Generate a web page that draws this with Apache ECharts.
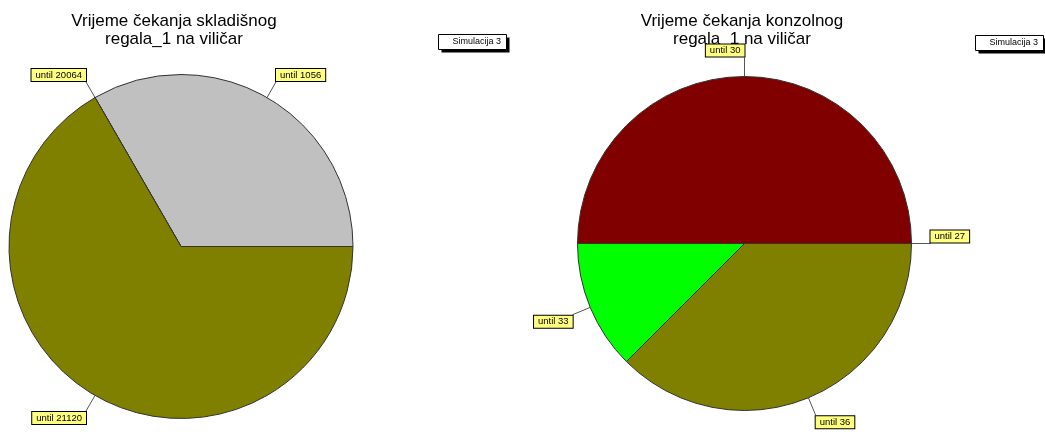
<!DOCTYPE html>
<html>
<head>
<meta charset="utf-8">
<script src="https://cdn.jsdelivr.net/npm/echarts@6/dist/echarts.min.js"></script>
<style>
  html, body { margin: 0; padding: 0; background: #fff; }
  #chart { width: 1045px; height: 432px; }
</style>
</head>
<body>
<div id="chart"></div>
<script>
// Waiting-time classes for the storage rack (left) and the cantilever rack (right)
const storageNames = ['until 1056', 'until 20064', 'until 21120'];
const storageValues = [1, 0, 2];
const storageColors = ['#c0c0c0', '#808000', '#808000'];

const cantileverNames = ['until 27', 'until 30', 'until 33', 'until 36'];
const cantileverValues = [0, 4, 1, 3];
const cantileverColors = ['#808000', '#800000', '#00ff00', '#808000'];

const titles = ['Vrijeme čekanja skladišnog\nregala_1 na viličar', 'Vrijeme čekanja konzolnog\nregala_1 na viličar'];
const legendText = 'Simulacija 3';

const FONT = '"Liberation Sans", Arial, sans-serif';

function buildData(names, values, colors) {
  return names.map((n, i) => ({ name: n, value: values[i], itemStyle: { color: colors[i] } }));
}

// Put the label box's corner on the end of its leader line
function cornerLayout(params) {
  const pts = params.labelLinePoints;
  if (!pts || pts.length < 2) return {};
  const a = pts[0], b = pts[pts.length - 1];
  const dx = b[0] - a[0];
  const dy = b[1] - a[1];
  const h = params.labelRect.height;
  return {
    align: dx > 0.5 ? 'left' : 'right',
    dy: dy <= 0.01 ? -h / 2 : h / 2
  };
}

function pieSeries(name, names, values, colors, center, radius, lineLen) {
  return {
    type: 'pie',
    name: name,
    z: 3,
    center: center,
    radius: radius,
    startAngle: 0,
    clockwise: false,
    avoidLabelOverlap: false,
    animation: false,
    silent: true,
    itemStyle: { borderColor: '#333', borderWidth: 1 },
    label: {
      show: true,
      position: 'outside',
      formatter: '{b}',
      fontFamily: FONT,
      fontSize: 9.5,
      color: '#000',
      backgroundColor: '#ffff80',
      borderColor: '#000',
      borderWidth: 1,
      padding: [1, 4, 1, 4],
      distanceToLabelLine: 0
    },
    labelLine: {
      show: true,
      length: lineLen,
      length2: 0,
      lineStyle: { color: '#555', width: 1 }
    },
    labelLayout: cornerLayout,
    data: buildData(names, values, colors)
  };
}

// Small framed legend tag with a hard drop shadow
function legendTag(x, y) {
  return {
    type: 'group',
    left: x,
    top: y,
    children: [
      { type: 'rect', shape: { x: 3, y: 3, width: 68, height: 15 }, style: { fill: '#000' } },
      { type: 'rect', shape: { x: 0, y: 0, width: 68, height: 15 }, style: { fill: '#fff', stroke: '#000', lineWidth: 1 } },
      { type: 'text', x: 14, y: 3, style: { text: legendText, font: '9px ' + FONT, fill: '#000' } }
    ]
  };
}

const chart = echarts.init(document.getElementById('chart'), null, { renderer: 'canvas' });

const titleStyle = { fontFamily: FONT, fontSize: 17, fontWeight: 'normal', color: '#000', lineHeight: 18 };

chart.setOption({
  backgroundColor: '#fff',
  title: [
    { text: titles[0], left: 169, top: 7, textAlign: 'center', z: 1, textStyle: titleStyle },
    { text: titles[1], left: 737, top: 7, textAlign: 'center', z: 1, textStyle: titleStyle }
  ],
  graphic: [legendTag(438, 34), legendTag(975, 35)],
  series: [
    pieSeries('skladišni', storageNames, storageValues, storageColors, [181, 246.5], 172, 18),
    pieSeries('konzolni', cantileverNames, cantileverValues, cantileverColors, [744.5, 243.5], 167, 19)
  ]
});
</script>
</body>
</html>
